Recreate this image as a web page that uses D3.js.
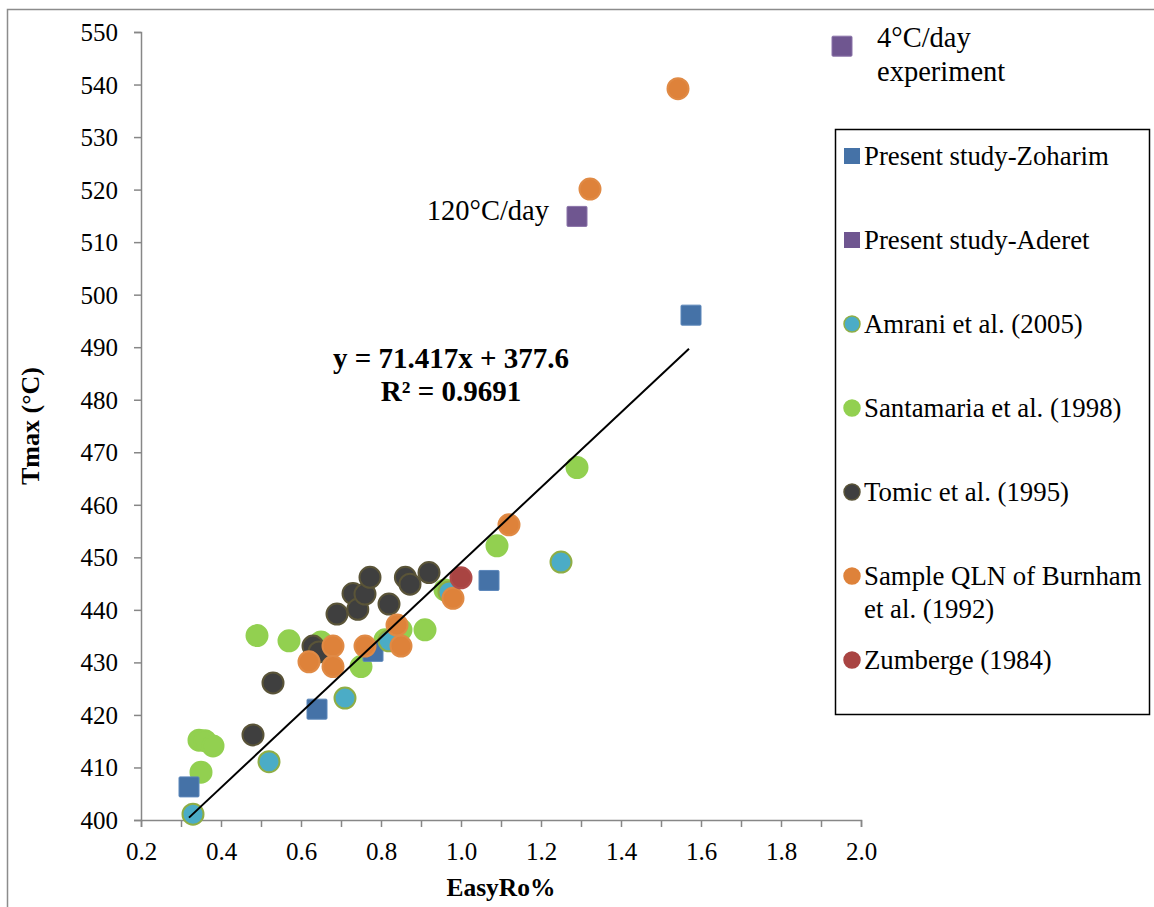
<!DOCTYPE html>
<html>
<head>
<meta charset="utf-8">
<script src="https://cdn.jsdelivr.net/npm/d3@7"></script>
<style>
  html, body { margin: 0; padding: 0; background: #fff; }
  svg { display: block; }
  svg text { font-family: "Liberation Serif", "Tinos", "Times New Roman", "DejaVu Serif", serif; }
</style>
</head>
<body>
<svg id="chart" width="1154" height="907"></svg>
<script>
// ---- Data: EasyRo% vs Tmax (°C) ----
const zoharimX = [0.32, 0.64, 0.78, 1.07, 1.575];
const zoharimY = [406.3, 421.1, 432.1, 445.6, 496.1];

const aderetX = [1.29, 1.9525];
const aderetY = [514.9, 547.3];
const aderetNotes = [["120°C/day"], ["4°C/day", "experiment"]];

const amraniX = [0.33, 0.52, 0.71, 0.82, 0.97, 1.25];
const amraniY = [401.1, 411.1, 423.2, 434.1, 443.4, 449.1];

const santamariaX = [0.345, 0.36, 0.38, 0.35, 0.49, 0.57, 0.65, 0.75, 0.81, 0.85, 0.91, 0.96, 1.09, 1.29];
const santamariaY = [415.2, 415.1, 414.1, 409.1, 435.1, 434.1, 433.9, 429.2, 434.3, 436.2, 436.2, 443.8, 452.2, 467.1];

const tomicX = [0.48, 0.53, 0.63, 0.645, 0.69, 0.73, 0.742, 0.76, 0.7725, 0.82, 0.861, 0.8725, 0.92];
const tomicY = [416.2, 426.1, 433.1, 432.0, 439.2, 443.1, 440.1, 443.0, 446.2, 441.1, 446.2, 444.9, 447.1];

const burnhamX = [0.62, 0.68, 0.68, 0.76, 0.84, 0.85, 0.98, 1.12, 1.3225, 1.5425];
const burnhamY = [430.1, 433.1, 429.2, 433.1, 437.1, 433.1, 442.2, 456.2, 520.1, 539.2];

const zumbergeX = [1.0];
const zumbergeY = [446.1];

// Linear fit through the data set
const fitSlope = 71.417;
const fitIntercept = 377.6;
const fitRange = [0.32, 1.57];
const fitLines = ["y = 71.417x + 377.6", "R² = 0.9691"];

// Axis ticks
const xTicks = [0.2, 0.4, 0.6, 0.8, 1.0, 1.2, 1.4, 1.6, 1.8, 2.0];
const xMinorTicks = d3.range(2, 21).map(d => d / 10);
const yTicks = [400, 410, 420, 430, 440, 450, 460, 470, 480, 490, 500, 510, 520, 530, 540, 550];

const xTitle = "EasyRo%";
const yTitle = "Tmax (°C)";

const SERIF = '"Liberation Serif", "Tinos", "Times New Roman", "DejaVu Serif", serif';

// ---- Series definitions (drawing order) ----
const series = [
  { name: "Santamaria et al. (1998)", xs: santamariaX, ys: santamariaY, shape: "circle", fill: "#92d050", stroke: "#92d050" },
  { name: "Tomic et al. (1995)", xs: tomicX, ys: tomicY, shape: "circle", fill: "#3f3f3f", stroke: "#5a5438" },
  { name: "Present study-Zoharim", xs: zoharimX, ys: zoharimY, shape: "square", fill: "#4572a7", stroke: "#5b86ba" },
  { name: "Amrani et al. (2005)", xs: amraniX, ys: amraniY, shape: "circle", fill: "#4bacc6", stroke: "#8fae45" },
  { name: "Sample QLN of Burnham et al. (1992)", xs: burnhamX, ys: burnhamY, shape: "circle", fill: "#de823a", stroke: "#e08a45" },
  { name: "Zumberge (1984)", xs: zumbergeX, ys: zumbergeY, shape: "circle", fill: "#a94442", stroke: "#b04c4a" },
  { name: "Present study-Aderet", xs: aderetX, ys: aderetY, shape: "square", fill: "#6f5690", stroke: "#8a73a8" }
];

// Legend order
const legendItems = [
  { lines: ["Present study-Zoharim"], shape: "square", fill: "#4572a7", stroke: "#4572a7" },
  { lines: ["Present study-Aderet"], shape: "square", fill: "#6f5690", stroke: "#6f5690" },
  { lines: ["Amrani et al. (2005)"], shape: "circle", fill: "#4bacc6", stroke: "#8fae45" },
  { lines: ["Santamaria et al. (1998)"], shape: "circle", fill: "#92d050", stroke: "#92d050" },
  { lines: ["Tomic et al. (1995)"], shape: "circle", fill: "#3f3f3f", stroke: "#5a5438" },
  { lines: ["Sample QLN of Burnham", "et al. (1992)"], shape: "circle", fill: "#de823a", stroke: "#de823a" },
  { lines: ["Zumberge (1984)"], shape: "circle", fill: "#a94442", stroke: "#a94442" }
];

// ---- Layout ----
const svg = d3.select("#chart");
const plot = { left: 141, right: 861, top: 32, bottom: 820 };

const x = d3.scaleLinear().domain([0.2, 2.0]).range([plot.left, plot.right]);
const y = d3.scaleLinear().domain([400, 550]).range([plot.bottom, plot.top]);

// Chart frame
svg.append("rect")
  .attr("x", 7.5).attr("y", 9.5)
  .attr("width", 1160).attr("height", 920)
  .attr("fill", "none").attr("stroke", "#8c8c8c").attr("stroke-width", 1.5);

const axisColor = "#878787";

// X axis (minor ticks every 0.1, labels every 0.2)
const gx = svg.append("g").attr("transform", `translate(0,${plot.bottom})`);
gx.call(d3.axisBottom(x).tickValues(xMinorTicks).tickSize(7).tickFormat(""));
gx.select(".domain").attr("stroke", axisColor).attr("stroke-width", 1.5);
gx.selectAll(".tick line").attr("stroke", axisColor).attr("stroke-width", 1.5);
const gxl = svg.append("g").attr("transform", `translate(0,${plot.bottom})`);
gxl.call(d3.axisBottom(x).tickValues(xTicks).tickSize(0).tickPadding(22).tickFormat(d3.format(".1f")));
gxl.attr("font-family", SERIF);
gxl.select(".domain").remove();
gxl.selectAll(".tick text")
  .attr("font-family", SERIF).attr("font-size", 25).attr("fill", "#000");

// Y axis
const gy = svg.append("g").attr("transform", `translate(${plot.left},0)`);
gy.call(d3.axisLeft(y).tickValues(yTicks).tickSize(7).tickPadding(16).tickFormat(d3.format("d")));
gy.attr("font-family", SERIF);
gy.select(".domain").attr("stroke", axisColor).attr("stroke-width", 1.5);
gy.selectAll(".tick line").attr("stroke", axisColor).attr("stroke-width", 1.5);
gy.selectAll(".tick text")
  .attr("font-family", SERIF).attr("font-size", 25).attr("fill", "#000")
  .attr("dy", "0.34em");

// Axis titles
svg.append("text")
  .attr("x", (plot.left + plot.right) / 2).attr("y", 896)
  .attr("text-anchor", "middle")
  .attr("font-size", 25.5).attr("font-weight", "bold")
  .text(xTitle);

svg.append("text")
  .attr("transform", `translate(39,${(plot.top + plot.bottom) / 2})rotate(-90)`)
  .attr("text-anchor", "middle")
  .attr("font-size", 26).attr("font-weight", "bold")
  .text(yTitle);

// Marker drawing helper
const R = 10.5;
const S = 20;
function drawMarker(g, shape, cx, cy, fill, stroke) {
  if (shape === "square") {
    g.append("rect")
      .attr("x", cx - S / 2).attr("y", cy - S / 2)
      .attr("width", S).attr("height", S)
      .attr("rx", 1)
      .attr("fill", fill).attr("stroke", stroke).attr("stroke-width", 1);
  } else {
    g.append("circle")
      .attr("cx", cx).attr("cy", cy).attr("r", R)
      .attr("fill", fill).attr("stroke", stroke).attr("stroke-width", 2);
  }
}

// Points
const gPts = svg.append("g");
series.forEach((s, si) => {
  const g = gPts.append("g").attr("class", "series-" + si);
  s.xs.forEach((xv, i) => {
    drawMarker(g, s.shape, x(xv), y(s.ys[i]), s.fill, s.stroke);
  });
});

// Trend line
svg.append("line")
  .attr("x1", x(fitRange[0])).attr("y1", y(fitSlope * fitRange[0] + fitIntercept))
  .attr("x2", x(fitRange[1])).attr("y2", y(fitSlope * fitRange[1] + fitIntercept))
  .attr("stroke", "#000").attr("stroke-width", 2);

// Fit equation
const eq = svg.append("text")
  .attr("text-anchor", "middle")
  .attr("font-size", 29).attr("font-weight", "bold");
fitLines.forEach((t, i) => {
  eq.append("tspan").attr("x", 451).attr("y", 368 + i * 33).text(t);
});

// Heating-rate notes on the Aderet points
svg.append("text")
  .attr("x", x(aderetX[0]) - 28).attr("y", y(aderetY[0]) + 4)
  .attr("text-anchor", "end")
  .attr("font-size", 28.5)
  .text(aderetNotes[0][0]);

const note2 = svg.append("text").attr("font-size", 28.5);
aderetNotes[1].forEach((t, i) => {
  note2.append("tspan")
    .attr("x", x(aderetX[1]) + 35)
    .attr("y", y(aderetY[1]) + 1 + i * 34)
    .text(t);
});

// Legend
const lg = svg.append("g");
lg.append("rect")
  .attr("x", 835.5).attr("y", 129.5)
  .attr("width", 314).attr("height", 585)
  .attr("fill", "#fff").attr("stroke", "#000").attr("stroke-width", 1.5);

const legendY0 = 156;
const legendStep = 84;
legendItems.forEach((it, i) => {
  const cy = legendY0 + i * legendStep;
  if (it.shape === "square") {
    lg.append("rect")
      .attr("x", 844).attr("y", cy - 8)
      .attr("width", 16).attr("height", 16)
      .attr("fill", it.fill);
  } else {
    lg.append("circle")
      .attr("cx", 852).attr("cy", cy).attr("r", 8)
      .attr("fill", it.fill).attr("stroke", it.stroke).attr("stroke-width", 1.5);
  }
  const t = lg.append("text").attr("font-size", 26.8);
  it.lines.forEach((line, j) => {
    t.append("tspan").attr("x", 864).attr("y", cy + 9 + j * 33).text(line);
  });
});
</script>
</body>
</html>
